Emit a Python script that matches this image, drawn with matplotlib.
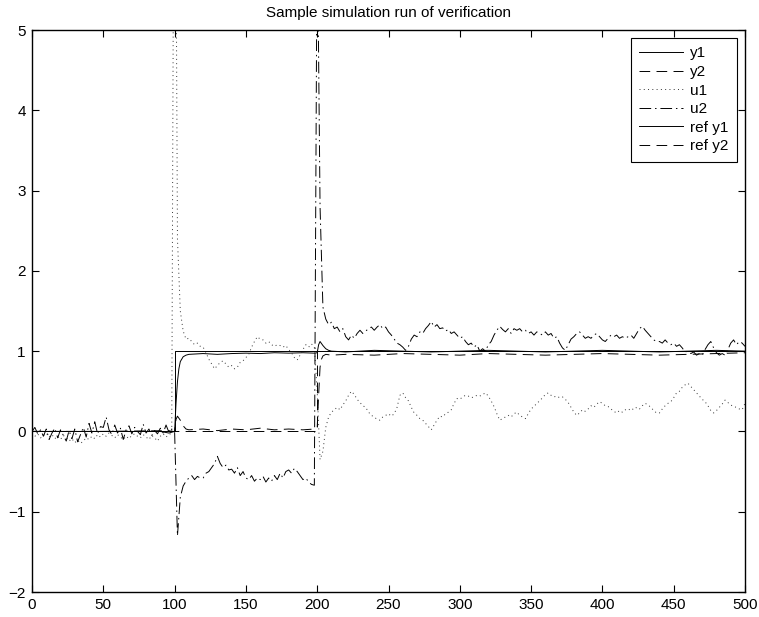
import numpy as np
import matplotlib
matplotlib.use("Agg")
import matplotlib.pyplot as plt

plt.rcParams['font.family'] = ['Liberation Sans', 'DejaVu Sans']

# ---------------- data ----------------
title = "Sample simulation run of verification"
labels = ["y1", "y2", "u1", "u2", "ref y1", "ref y2"]
x_ticks = [0, 50, 100, 150, 200, 250, 300, 350, 400, 450, 500]
y_ticks = [-2, -1, 0, 1, 2, 3, 4, 5]

# sample times for the noisy control signals
t_u = np.arange(0, 501, 2)

u1 = [
    -0.02, -0.06, -0.03, -0.08, -0.05, -0.02, -0.07, -0.04, -0.09, -0.06,
    -0.10, -0.05, -0.08, -0.12, -0.09, -0.14, -0.11, -0.15, -0.12, -0.08,
    -0.10, -0.06, -0.09, -0.04, -0.07, -0.03, -0.06, -0.02, -0.05, -0.08,
    -0.04, -0.07, -0.10, -0.06, -0.09, -0.05, -0.03, -0.06, -0.08, -0.04,
    -0.07, -0.10, -0.05, -0.08, -0.12, -0.06, -0.03, -0.07, -0.04, -0.02,
    10.0, 2.40, 1.50, 1.25, 1.15, 1.16, 1.12, 1.08, 1.10, 1.06,
    1.05, 0.98, 0.90, 0.84, 0.78, 0.82, 0.86, 0.88, 0.84, 0.80,
    0.82, 0.78, 0.80, 0.86, 0.88, 0.92, 0.96, 1.05, 1.12, 1.18,
    1.15, 1.14, 1.10, 1.12, 1.08, 1.06, 1.08, 1.07, 1.05, 1.07,
    1.02, 0.98, 0.92, 0.89, 0.95, 1.02, 1.08, 1.05, 1.09, 1.05,
    0.50, -0.35, -0.25, 0.05, 0.18, 0.24, 0.27, 0.30, 0.27, 0.33,
    0.38, 0.45, 0.50, 0.46, 0.40, 0.36, 0.32, 0.30, 0.24, 0.20,
    0.18, 0.15, 0.14, 0.18, 0.20, 0.22, 0.19, 0.22, 0.30, 0.45,
    0.48, 0.42, 0.38, 0.30, 0.23, 0.20, 0.16, 0.14, 0.10, 0.06,
    0.02, 0.08, 0.14, 0.19, 0.18, 0.22, 0.24, 0.27, 0.35, 0.41,
    0.40, 0.43, 0.45, 0.44, 0.42, 0.43, 0.45, 0.44, 0.46, 0.48,
    0.44, 0.38, 0.31, 0.22, 0.14, 0.16, 0.18, 0.20, 0.18, 0.22,
    0.24, 0.20, 0.18, 0.16, 0.22, 0.28, 0.31, 0.35, 0.38, 0.42,
    0.46, 0.48, 0.45, 0.43, 0.44, 0.42, 0.43, 0.40, 0.36, 0.30,
    0.24, 0.20, 0.23, 0.27, 0.25, 0.28, 0.32, 0.30, 0.34, 0.37,
    0.35, 0.32, 0.31, 0.28, 0.25, 0.23, 0.26, 0.24, 0.27, 0.26,
    0.29, 0.27, 0.30, 0.28, 0.32, 0.35, 0.33, 0.30, 0.26, 0.23,
    0.23, 0.28, 0.32, 0.35, 0.37, 0.42, 0.48, 0.50, 0.55, 0.58,
    0.60, 0.56, 0.52, 0.48, 0.44, 0.40, 0.37, 0.32, 0.26, 0.23,
    0.26, 0.30, 0.34, 0.39, 0.36, 0.33, 0.31, 0.30, 0.28, 0.27,
    0.35,
]

u2 = [
    0.00, 0.05, -0.03, 0.02, -0.06, 0.03, -0.10, -0.02, 0.04, -0.08,
    0.02, -0.05, -0.12, 0.01, -0.09, 0.03, -0.13, -0.04, 0.05, -0.07,
    0.10, -0.02, 0.12, -0.03, 0.06, 0.05, 0.18, 0.02, -0.04, 0.08,
    -0.02, 0.04, -0.10, 0.02, 0.07, -0.03, 0.05, 0.00, -0.04, 0.09,
    -0.02, 0.03, -0.05, 0.01, -0.03, 0.04, -0.02, 0.08, -0.01, 0.03,
    0.00, -1.30, -0.82, -0.68, -0.62, -0.58, -0.55, -0.60, -0.56, -0.58,
    -0.58, -0.52, -0.50, -0.45, -0.40, -0.31, -0.40, -0.45, -0.42, -0.48,
    -0.47, -0.52, -0.45, -0.55, -0.50, -0.58, -0.60, -0.55, -0.62, -0.58,
    -0.60, -0.56, -0.63, -0.58, -0.62, -0.55, -0.60, -0.52, -0.58, -0.50,
    -0.48, -0.52, -0.46, -0.50, -0.55, -0.60, -0.58, -0.63, -0.66, -0.67,
    6.50, 2.80, 1.55, 1.40, 1.33, 1.36, 1.28, 1.30, 1.24, 1.28,
    1.18, 1.14, 1.20, 1.16, 1.22, 1.26, 1.22, 1.25, 1.28, 1.30,
    1.26, 1.30, 1.33, 1.28, 1.30, 1.24, 1.20, 1.15, 1.10, 1.08,
    1.05, 1.01, 1.06, 1.15, 1.20, 1.18, 1.24, 1.22, 1.28, 1.32,
    1.37, 1.30, 1.33, 1.28, 1.29, 1.25, 1.27, 1.22, 1.24, 1.20,
    1.16, 1.18, 1.12, 1.08, 1.10, 1.05, 1.08, 1.00, 1.03, 1.00,
    1.08, 1.12, 1.20, 1.26, 1.31, 1.27, 1.24, 1.28, 1.22, 1.28,
    1.26, 1.28, 1.24, 1.26, 1.22, 1.24, 1.20, 1.24, 1.22, 1.20,
    1.24, 1.20, 1.22, 1.16, 1.18, 1.10, 1.04, 1.01, 1.08, 1.15,
    1.18, 1.22, 1.24, 1.20, 1.16, 1.18, 1.16, 1.20, 1.22, 1.18,
    1.14, 1.12, 1.16, 1.20, 1.18, 1.20, 1.16, 1.18, 1.16, 1.18,
    1.20, 1.16, 1.22, 1.28, 1.31, 1.26, 1.22, 1.18, 1.14, 1.12,
    1.12, 1.10, 1.14, 1.10, 1.08, 1.10, 1.06, 1.08, 1.04, 0.99,
    1.00, 0.97, 0.99, 0.95, 0.97, 0.95, 1.02, 1.08, 1.12, 1.04,
    0.98, 0.95, 0.97, 0.95, 1.02, 1.10, 1.14, 1.08, 1.12, 1.10,
    1.06,
]

t_y1 = [0, 20, 40, 60, 80, 90, 96, 98, 100, 101,
        102, 103, 104, 106, 108, 110, 115, 120, 130, 140,
        150, 160, 170, 180, 190, 198, 200, 201, 202, 204,
        206, 208, 210, 220, 240, 260, 280, 300, 320, 340,
        360, 380, 400, 420, 440, 460, 480, 500]
y1 = [0, 0, 0, 0, 0, 0, -0.02, -0.01, 0, 0.35,
      0.62, 0.78, 0.87, 0.93, 0.95, 0.96, 0.965, 0.97, 0.96, 0.97,
      0.975, 0.97, 0.98, 0.975, 0.98, 0.975, 0.98, 1.08, 1.12, 1.07,
      1.03, 1.01, 1.00, 0.99, 1.01, 1.00, 0.99, 1.00, 1.01, 1.00,
      0.99, 1.00, 1.01, 1.00, 0.99, 1.00, 1.01, 1.00]

t_y2 = [0, 50, 96, 98, 100, 101, 102, 104, 106, 108,
        110, 120, 130, 140, 150, 160, 170, 180, 190, 198,
        200, 201, 202, 203, 204, 206, 210, 220, 240, 260,
        280, 300, 320, 340, 360, 380, 400, 420, 440, 460,
        480, 500]
y2 = [0, 0, 0.01, 0, 0, 0.15, 0.19, 0.14, 0.07, 0.03,
      0.02, 0.03, 0.01, 0.03, 0.02, 0.04, 0.02, 0.03, 0.02, 0.03,
      0.05, 0.45, 0.80, 0.90, 0.94, 0.96, 0.95, 0.96, 0.95, 0.97,
      0.96, 0.95, 0.97, 0.96, 0.95, 0.96, 0.97, 0.96, 0.95, 0.96,
      0.97, 0.98]

ref_t1 = [0, 100, 100, 500]
ref_y1 = [0, 0, 1, 1]
ref_t2 = [0, 200, 200, 500]
ref_y2 = [0, 0, 1, 1]

# ---------------- figure ----------------
fig = plt.figure(figsize=(7.59, 6.17), dpi=100)
ax = fig.add_axes([32 / 759, 1 - 592 / 617, (745 - 32) / 759, (592 - 30) / 617])

lw = 0.7
dashed = (0, (11, 6.5))
dashdot = (0, (12, 4, 1.5, 4))
dotted = (0, (1, 3.4))
ax.plot(t_y1, y1, color='black', lw=lw, ls='-', label=labels[0])
ax.plot(t_y2, y2, color='black', lw=lw, ls=dashed, label=labels[1])
ax.plot(t_u, u1, color='#333333', lw=lw, ls=dotted, label=labels[2])
ax.plot(t_u, u2, color='black', lw=lw, ls=dashdot, label=labels[3])
ax.plot(ref_t1, ref_y1, color='black', lw=lw, ls='-', label=labels[4])
ax.plot(ref_t2, ref_y2, color='black', lw=lw, ls=dashed, label=labels[5])

ax.set_xlim(0, 500)
ax.set_ylim(-2, 5)
ax.set_xticks(x_ticks)
ax.set_yticks(y_ticks)
ax.tick_params(direction='in', top=True, right=True, length=5, width=0.8,
               labelsize=11, pad=4.5)
for sp in ax.spines.values():
    sp.set_linewidth(1.0)
ax.set_title(title, fontsize=11, pad=9.5)

leg = ax.legend(loc='upper right', fontsize=11, frameon=True, fancybox=False,
                edgecolor='black', framealpha=1, handlelength=2.9,
                handletextpad=0.45, labelspacing=0.3, borderpad=0.55,
                borderaxespad=0.52)
leg.get_frame().set_linewidth(0.8)

fig.savefig("out.png", dpi=100)
